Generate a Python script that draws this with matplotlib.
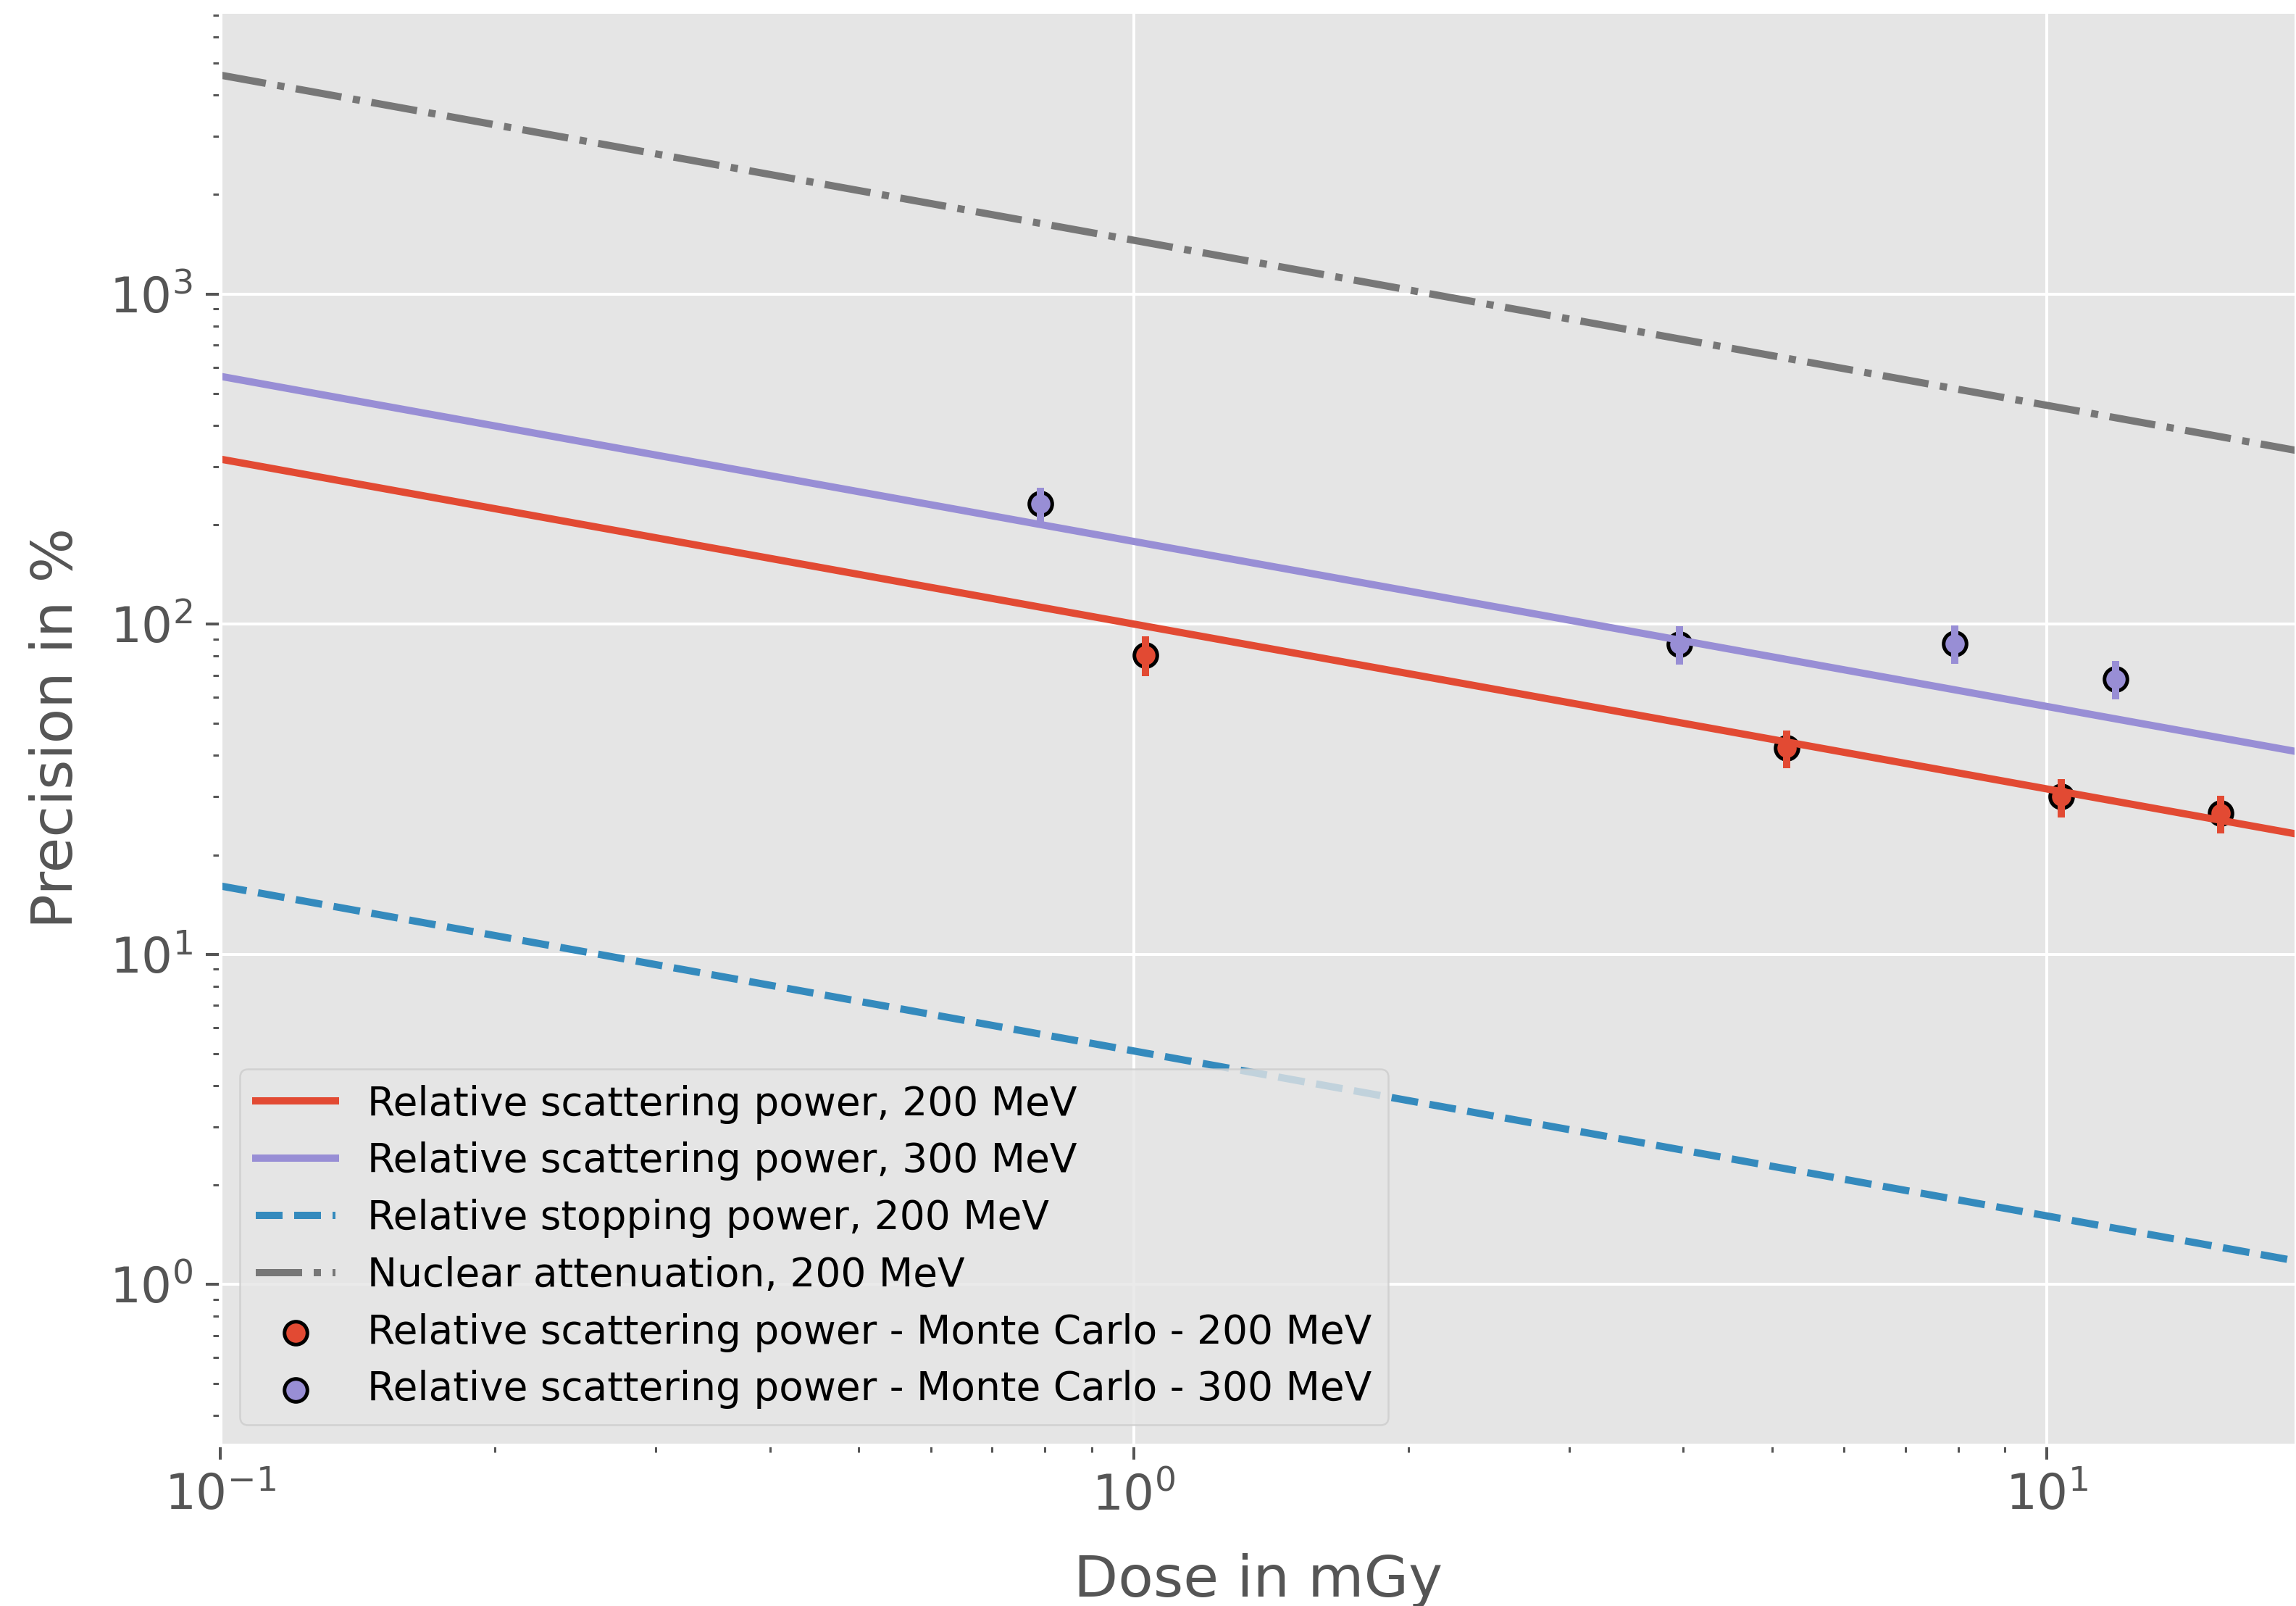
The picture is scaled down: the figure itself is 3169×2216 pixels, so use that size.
import matplotlib
matplotlib.use("Agg")
import matplotlib.pyplot as plt

plt.style.use("ggplot")

# Model curves: straight lines in log-log space, given by their end points
line_dose = [0.1, 20.0]
scatter_200 = [316.0, 22.4]
scatter_300 = [563.0, 39.8]
stopping_200 = [16.1, 1.14]
nuclear_200 = [4600.0, 325.0]

# Monte Carlo results with uncertainties
mc200_dose = [1.03, 5.19, 10.37, 15.5]
mc200_prec = [80.7, 42.1, 30.0, 26.7]
mc200_err = [11.0, 5.5, 4.0, 3.5]

mc300_dose = [0.791, 3.96, 7.93, 11.9]
mc300_prec = [231.0, 86.9, 87.4, 68.2]
mc300_err = [28.0, 11.5, 11.5, 9.0]

red, blue, purple, gray = "#E24A33", "#348ABD", "#988ED5", "#777777"

fig = plt.figure(figsize=(3169 / 360, 2216 / 360), dpi=360)
ax = fig.add_axes([0.0959, 0.1002, 1.0 - 0.0959, 0.993 - 0.1002])

ax.plot(line_dose, scatter_200, color=red, lw=2,
        label="Relative scattering power, 200 MeV")
ax.plot(line_dose, scatter_300, color=purple, lw=2,
        label="Relative scattering power, 300 MeV")
ax.plot(line_dose, stopping_200, color=blue, lw=2, ls="--",
        label="Relative stopping power, 200 MeV")
ax.plot(line_dose, nuclear_200, color=gray, lw=2, ls="-.",
        label="Nuclear attenuation, 200 MeV")

ax.scatter(mc200_dose, mc200_prec, s=40, color=red, edgecolors="black",
           linewidths=1.0, label="Relative scattering power - Monte Carlo - 200 MeV")
ax.scatter(mc300_dose, mc300_prec, s=40, color=purple, edgecolors="black",
           linewidths=1.0, label="Relative scattering power - Monte Carlo - 300 MeV")
ax.errorbar(mc200_dose, mc200_prec, yerr=mc200_err, fmt="none",
            ecolor=red, elinewidth=2)
ax.errorbar(mc300_dose, mc300_prec, yerr=mc300_err, fmt="none",
            ecolor=purple, elinewidth=2)

ax.set_xscale("log")
ax.set_yscale("log")
ax.set_xlim(0.1, 18.74)
ax.set_ylim(0.326, 7180)

ax.tick_params(axis="both", which="major", labelsize=13.5, length=4)
ax.tick_params(axis="both", which="minor", length=2)
ax.set_xlabel("Dose in mGy", fontsize=15.9, labelpad=9)
ax.set_ylabel("Precision in %", fontsize=15.9, labelpad=7)

ax.legend(loc="lower left", fontsize=11, handlelength=2.0, labelspacing=0.45)

fig.savefig("out.png", dpi=360)
